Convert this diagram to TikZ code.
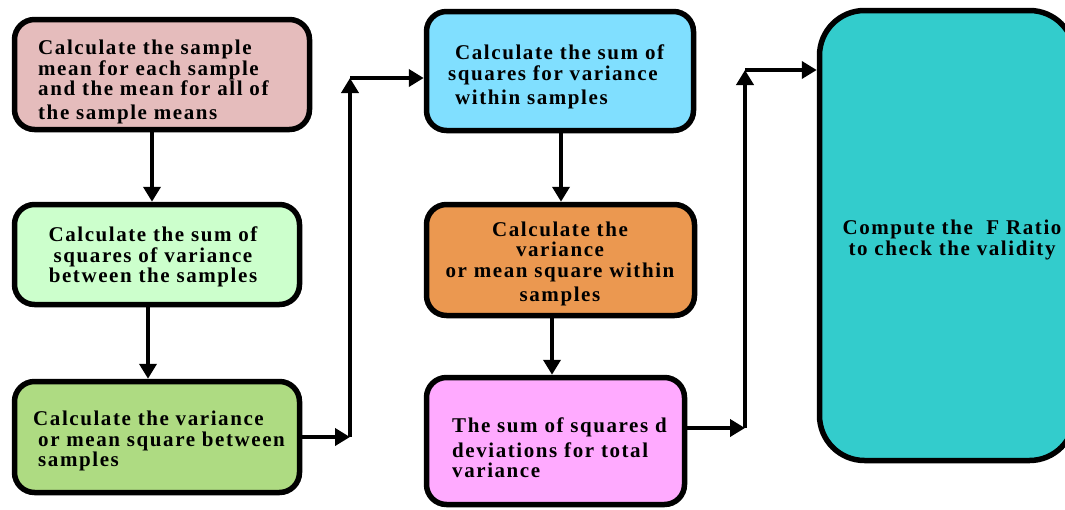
\documentclass[tikz,border=0pt]{standalone}
\usepackage{fontspec}
\setmainfont{Liberation Serif}[LetterSpace=7.5]
\usetikzlibrary{arrows.meta}

\definecolor{rosebox}{HTML}{E5BCBC}
\definecolor{mintbox}{HTML}{CCFFCC}
\definecolor{leafbox}{HTML}{AEDB82}
\definecolor{skybox}{HTML}{80DFFF}
\definecolor{amberbox}{HTML}{EB9850}
\definecolor{orchidbox}{HTML}{FFAAFF}
\definecolor{tealbox}{HTML}{33CCCC}

\tikzset{
  stepbox/.style={draw=black, line width=5.5pt, rounded corners=20pt, inner sep=0pt},
  boxtext/.style={inner sep=0pt, font=\fontsize{21}{20.5}\selectfont\bfseries},
  arr/.style={line width=4.5pt, -{Triangle[width=17pt,length=15pt]}},
}

\begin{document}
\begin{tikzpicture}[x=1pt,y=-1pt]
\clip (0,0) rectangle (1065,509);

% left column
\node[stepbox, fill=rosebox, minimum width=295pt, minimum height=110pt] (b1) at (162,74.5) {};
\node[stepbox, fill=mintbox, minimum width=285pt, minimum height=100pt] (b2) at (157,254.5) {};
\node[stepbox, fill=leafbox, minimum width=285pt, minimum height=111pt] (b3) at (157,437) {};

% middle column
\node[stepbox, fill=skybox, minimum width=267pt, minimum height=119pt] (b4) at (560,71) {};
\node[stepbox, fill=amberbox, minimum width=268pt, minimum height=111pt] (b5) at (560.5,260) {};
\node[stepbox, fill=orchidbox, minimum width=258pt, minimum height=127pt] (b6) at (555.5,441) {};

% final step
\node[stepbox, fill=tealbox, rounded corners=45pt, minimum width=255pt, minimum height=450pt] (b7) at (947,235.5) {};

% box texts
\node[boxtext, align=left, anchor=west] (t1) at (38,82)
  {Calculate the sample\\ mean for each sample\\ and the mean for all of\\[3pt] the sample means};
\node[boxtext, align=center] (t2) at (153,257)
  {Calculate the sum of\\ squares of variance\\ between the samples};
\node[boxtext, align=left, anchor=west] (t3) at (33,441)
  {Calculate the variance\\ \hspace*{5pt}or mean square between\\ \hspace*{5pt}samples};
\node[boxtext, align=left, anchor=west] (t4) at (448,77)
  {\hspace*{7pt}Calculate the sum of\\ squares for variance\\[4pt] \hspace*{7pt}within samples};
\node[boxtext, align=center] (t5) at (560,264)
  {Calculate the\\ variance\\ or mean square within\\[4pt] samples};
\node[boxtext, align=left, anchor=west] (t6) at (452,448)
  {The sum of squares d\\[4pt] deviations for total\\ variance};
\node[boxtext, align=center] (t7) at (952,240)
  {Compute the \ F Ratio\\ to check the validity};

% connectors
\coordinate (c1) at (350,437);
\coordinate (c2) at (350,78);
\coordinate (c3) at (745,428);
\coordinate (c4) at (745,70);

\draw[arr] ([xshift=-10pt]b1.south) -- ([xshift=-10pt]b1.south |- b2.north);
\draw[arr] ([xshift=-9pt]b2.south) -- ([xshift=-9pt]b2.south |- b3.north);
\draw[arr] (b3.east) -- (c1);
\draw[arr] (c1) -- (c2);
\draw[arr] (c2) -- (c2 -| b4.west);
\draw[arr] ([xshift=1pt]b4.south) -- ([xshift=1pt]b4.south |- b5.north);
\draw[arr] ([xshift=-8.5pt]b5.south) -- ([xshift=-8.5pt]b5.south |- b6.north);
\draw[arr] (b6.east |- c3) -- (c3);
\draw[arr] (c3) -- (c4);
\draw[arr] (c4) -- (c4 -| b7.west);
\end{tikzpicture}
\end{document}
